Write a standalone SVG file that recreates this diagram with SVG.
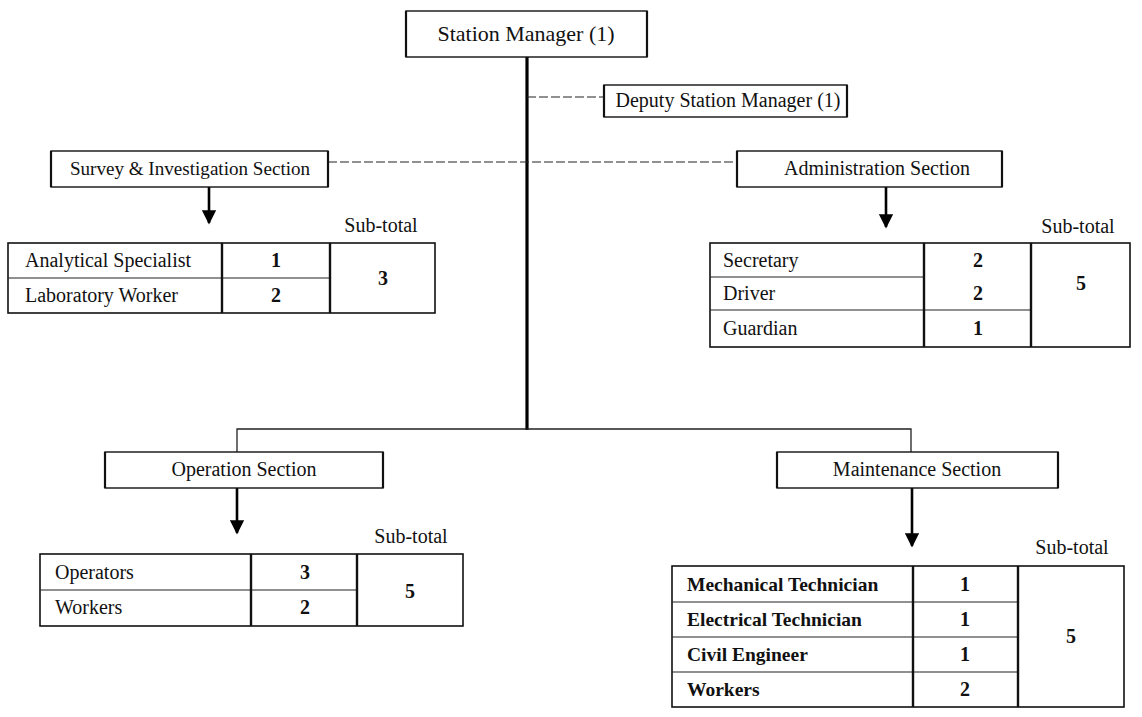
<svg xmlns="http://www.w3.org/2000/svg" width="1142" height="717" viewBox="0 0 1142 717">
  <style>
    .box { fill: #fff; stroke: #111; stroke-width: 1.4; }
    .side { stroke: #111; stroke-width: 2.2; }
    .cell { fill: none; stroke: #111; stroke-width: 1.6; }
    .sep { stroke: #222; stroke-width: 1.2; }
    .col { stroke: #111; stroke-width: 2.4; }
    .t { font-family: "Liberation Serif", "Times New Roman", serif; font-size: 20px; fill: #111; }
    .h { text-anchor: middle; }
    .n { text-anchor: middle; font-weight: bold; }
    .b { font-weight: bold; font-size: 19.5px; }
    .top { font-size: 22px; }
    .sm { font-size: 19.1px; }
    .trunk { stroke: #000; stroke-width: 3.2; fill: none; }
    .link { stroke: #222; stroke-width: 1.3; fill: none; }
    .dash { stroke: #222; stroke-width: 1.2; fill: none; stroke-dasharray: 9 3; }
    .arrow { stroke: #000; stroke-width: 2.6; fill: none; marker-end: url(#head); }
  </style>
  <defs>
    <marker id="head" viewBox="0 0 10 10" refX="9" refY="5" markerWidth="6" markerHeight="5.5" markerUnits="strokeWidth" orient="auto">
      <path d="M0,0 L10,5 L0,10 z" fill="#000"/>
    </marker>
  </defs>
  <rect width="1142" height="717" fill="#fff"/>

  <g id="connectors">
    <line class="trunk" x1="527" y1="57" x2="527" y2="430"/>
    <line class="dash" x1="527" y1="97" x2="604" y2="97"/>
    <line class="dash" x1="328" y1="162" x2="737" y2="162"/>
    <polyline class="link" points="237,452 237,429 911,429 911,452"/>
    <line class="arrow" x1="209" y1="187" x2="209" y2="223"/>
    <line class="arrow" x1="886" y1="187" x2="886" y2="227"/>
    <line class="arrow" x1="237" y1="488" x2="237" y2="533"/>
    <line class="arrow" x1="912" y1="488" x2="912" y2="546"/>
  </g>

  <g id="station-manager">
    <rect class="box" x="406" y="11" width="241" height="46"/>
    <line class="side" x1="406" y1="11" x2="406" y2="57"/>
    <line class="side" x1="647" y1="11" x2="647" y2="57"/>
    <text class="t h top" x="526" y="41">Station Manager (1)</text>
  </g>

  <g id="deputy-station-manager">
    <rect class="box" x="604" y="85" width="243" height="32"/>
    <line class="side" x1="604" y1="85" x2="604" y2="117"/>
    <line class="side" x1="847" y1="85" x2="847" y2="117"/>
    <text class="t h" x="728" y="107">Deputy Station Manager (1)</text>
  </g>

  <g id="survey-section">
    <rect class="box" x="51" y="151" width="277" height="36"/>
    <line class="side" x1="51" y1="151" x2="51" y2="187"/>
    <line class="side" x1="328" y1="151" x2="328" y2="187"/>
    <text class="t h sm" x="190" y="175">Survey &amp; Investigation Section</text>
  </g>

  <g id="survey-table">
    <text class="t h" x="381" y="232">Sub-total</text>
    <rect class="cell" x="8" y="243" width="427" height="70"/>
    <line class="sep" x1="8" y1="278" x2="330" y2="278"/>
    <line class="col" x1="222" y1="243" x2="222" y2="313"/>
    <line class="col" x1="330" y1="243" x2="330" y2="313"/>
    <text class="t" x="25" y="267">Analytical Specialist</text>
    <text class="t" x="25" y="302">Laboratory Worker</text>
    <text class="t n" x="276" y="267">1</text>
    <text class="t n" x="276" y="302">2</text>
    <text class="t n" x="383" y="285">3</text>
  </g>

  <g id="administration-section">
    <rect class="box" x="737" y="151" width="265" height="36"/>
    <line class="side" x1="737" y1="151" x2="737" y2="187"/>
    <line class="side" x1="1002" y1="151" x2="1002" y2="187"/>
    <text class="t h" x="877" y="175">Administration Section</text>
  </g>

  <g id="administration-table">
    <text class="t h" x="1078" y="233">Sub-total</text>
    <rect class="cell" x="710" y="243" width="420" height="104"/>
    <line class="sep" x1="710" y1="277" x2="924" y2="277"/>
    <line class="sep" x1="710" y1="310" x2="1031" y2="310"/>
    <line class="col" x1="924" y1="243" x2="924" y2="347"/>
    <line class="col" x1="1031" y1="243" x2="1031" y2="347"/>
    <text class="t" x="723" y="267">Secretary</text>
    <text class="t" x="723" y="300">Driver</text>
    <text class="t" x="723" y="335">Guardian</text>
    <text class="t n" x="978" y="267">2</text>
    <text class="t n" x="978" y="300">2</text>
    <text class="t n" x="978" y="335">1</text>
    <text class="t n" x="1081" y="290">5</text>
  </g>

  <g id="operation-section">
    <rect class="box" x="105" y="452" width="278" height="36"/>
    <line class="side" x1="105" y1="452" x2="105" y2="488"/>
    <line class="side" x1="383" y1="452" x2="383" y2="488"/>
    <text class="t h" x="244" y="476">Operation Section</text>
  </g>

  <g id="operation-table">
    <text class="t h" x="411" y="543">Sub-total</text>
    <rect class="cell" x="40" y="554" width="423" height="72"/>
    <line class="sep" x1="40" y1="590" x2="357" y2="590"/>
    <line class="col" x1="251" y1="554" x2="251" y2="626"/>
    <line class="col" x1="357" y1="554" x2="357" y2="626"/>
    <text class="t" x="55" y="579">Operators</text>
    <text class="t" x="55" y="614">Workers</text>
    <text class="t n" x="305" y="579">3</text>
    <text class="t n" x="305" y="614">2</text>
    <text class="t n" x="410" y="598">5</text>
  </g>

  <g id="maintenance-section">
    <rect class="box" x="777" y="452" width="281" height="36"/>
    <line class="side" x1="777" y1="452" x2="777" y2="488"/>
    <line class="side" x1="1058" y1="452" x2="1058" y2="488"/>
    <text class="t h" x="917" y="476">Maintenance Section</text>
  </g>

  <g id="maintenance-table">
    <text class="t h" x="1072" y="554">Sub-total</text>
    <rect class="cell" x="672" y="566" width="452" height="141"/>
    <line class="sep" x1="672" y1="602" x2="1018" y2="602"/>
    <line class="sep" x1="672" y1="637" x2="1018" y2="637"/>
    <line class="sep" x1="672" y1="672" x2="1018" y2="672"/>
    <line class="col" x1="913" y1="566" x2="913" y2="707"/>
    <line class="col" x1="1018" y1="566" x2="1018" y2="707"/>
    <text class="t b" x="687" y="591">Mechanical Technician</text>
    <text class="t b" x="687" y="626">Electrical Technician</text>
    <text class="t b" x="687" y="661">Civil Engineer</text>
    <text class="t b" x="687" y="696">Workers</text>
    <text class="t n" x="965" y="591">1</text>
    <text class="t n" x="965" y="626">1</text>
    <text class="t n" x="965" y="661">1</text>
    <text class="t n" x="965" y="696">2</text>
    <text class="t n" x="1071" y="643">5</text>
  </g>
</svg>
